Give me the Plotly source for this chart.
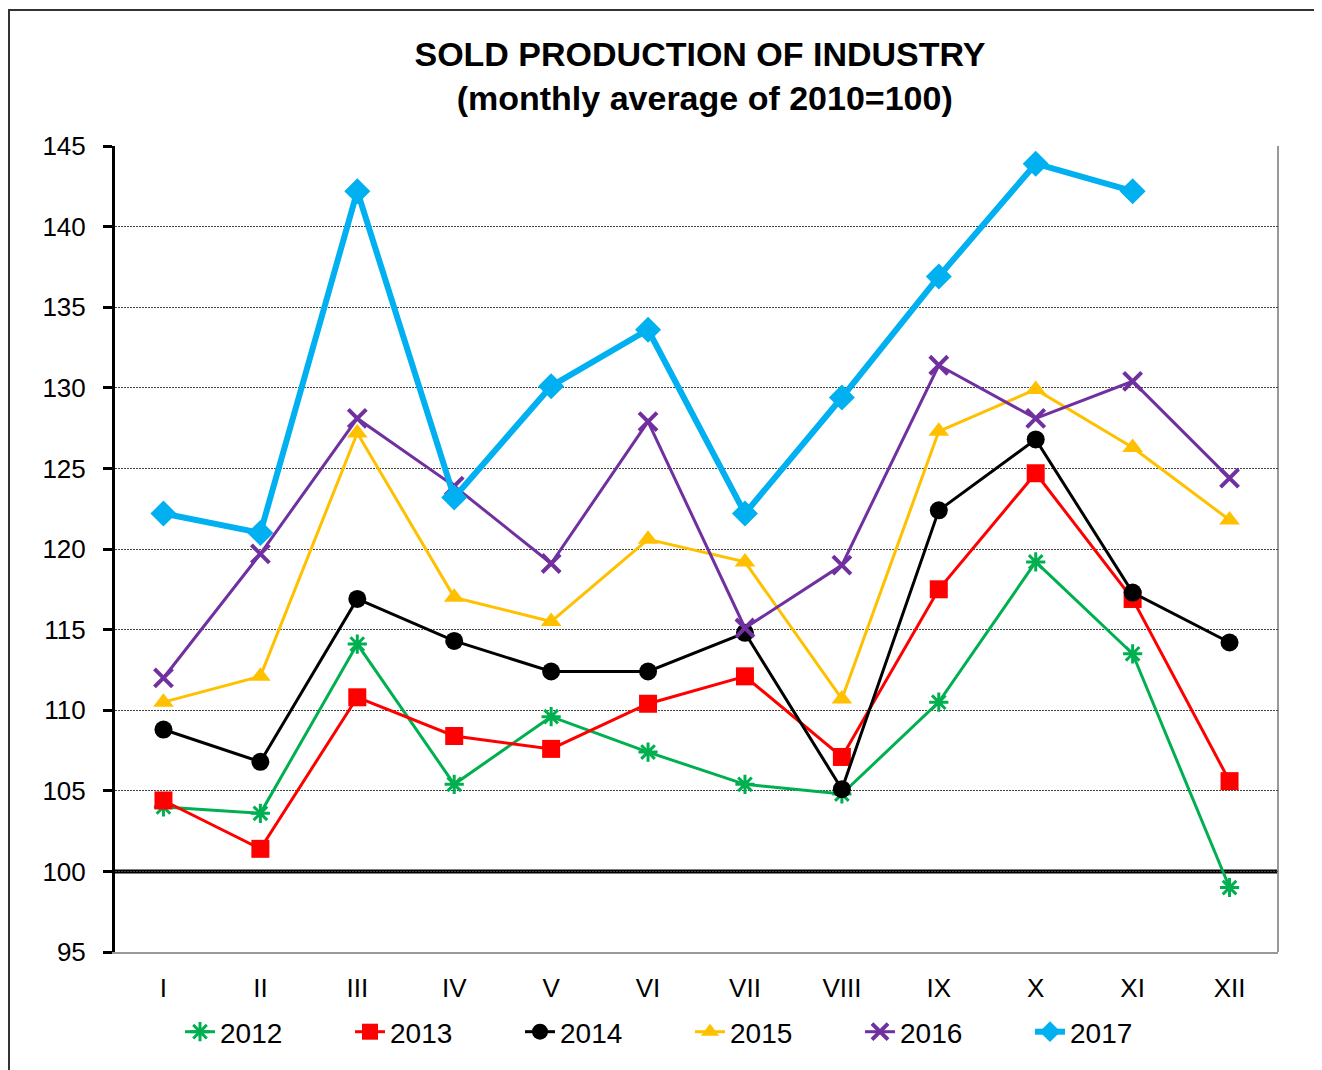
import plotly.graph_objects as go

months = ["I", "II", "III", "IV", "V", "VI", "VII", "VIII", "IX", "X", "XI", "XII"]
y2012 = [104.0, 103.6, 114.1, 105.4, 109.6, 107.4, 105.4, 104.8, 110.5, 119.2, 113.5, 99.0]
y2013 = [104.4, 101.4, 110.8, 108.4, 107.6, 110.4, 112.1, 107.1, 117.5, 124.7, 116.9, 105.6]
y2014 = [108.8, 106.8, 116.9, 114.3, 112.4, 112.4, 114.8, 105.1, 122.4, 126.8, 117.3, 114.2]
y2015 = [110.5, 112.1, 127.2, 117.0, 115.5, 120.6, 119.2, 110.7, 127.3, 129.9, 126.3, 121.8]
y2016 = [112.0, 119.7, 128.1, 123.9, 119.1, 127.9, 115.1, 119.0, 131.4, 128.1, 130.4, 124.4]
y2017 = [122.2, 121.0, 142.2, 123.2, 130.1, 133.6, 122.2, 129.4, 136.9, 143.9, 142.2, None]

FONT = "Arial, Liberation Sans, sans-serif"

# page body has an 8px margin; figure coordinates are offset accordingly
W, H = 1314, 1062
L, R, T, B = 107, 44, 138, 118
pw = W - L - R
ph = H - T - B
OFF = 8

fig = go.Figure()

series = [
    ("2012", y2012, "#00B050", 3, dict(symbol="asterisk-open", size=16, line=dict(width=3, color="#00B050"))),
    ("2013", y2013, "#FF0000", 3, dict(symbol="square", size=18, color="#FF0000")),
    ("2014", y2014, "#000000", 3, dict(symbol="circle", size=18, color="#000000")),
    ("2015", y2015, "#FFC000", 3, dict(symbol="triangle-up", size=18, color="#FFC000")),
    ("2016", y2016, "#7030A0", 3, dict(symbol="x-thin-open", size=18, line=dict(width=4, color="#7030A0"))),
    ("2017", y2017, "#00B0F0", 6, dict(symbol="diamond", size=20, color="#00B0F0")),
]

for name, ys, color, lw, marker in series:
    fig.add_trace(go.Scatter(
        x=months, y=ys, name=name, mode="lines+markers",
        line=dict(color=color, width=lw),
        marker=marker,
        connectgaps=False,
    ))

def px_x(px):
    return (px - OFF - L) / pw

def px_y(py):
    return (H - B - (py - OFF)) / ph

shapes = [
    dict(type="line", xref="paper", yref="y", x0=0, x1=1, y0=100, y1=100,
         line=dict(color="black", width=4), layer="between"),
    dict(type="line", xref="paper", yref="paper", x0=1, x1=1, y0=0, y1=1,
         line=dict(color="#999999", width=2), layer="between"),
    dict(type="rect", xref="paper", yref="paper",
         x0=px_x(9), x1=px_x(1340),
         y0=px_y(1100), y1=px_y(10),
         line=dict(color="#333333", width=2), fillcolor="rgba(0,0,0,0)"),
]

fig.update_layout(
    width=W, height=H,
    margin=dict(l=L, r=R, t=T, b=B, autoexpand=False),
    paper_bgcolor="white", plot_bgcolor="white",
    font=dict(family=FONT, color="black", size=26),
    title=dict(
        text="<b>SOLD PRODUCTION OF INDUSTRY<br> (monthly average of 2010=100)</b>",
        x=(700 - OFF) / W, xanchor="center",
        y=1 - (66 - OFF) / H, yanchor="top",
        font=dict(family=FONT, size=34, color="black"),
    ),
    xaxis=dict(
        type="category", categoryorder="array", categoryarray=months,
        range=[-0.5, 11.5],
        showgrid=False, zeroline=False,
        showline=True, linecolor="#999999", linewidth=2, mirror=False,
        ticks="", ticklabelstandoff=12,
        tickfont=dict(family=FONT, size=26, color="black"),
    ),
    yaxis=dict(
        range=[95, 145], dtick=5, tick0=95,
        showgrid=True, gridcolor="#444444", gridwidth=1, griddash="2px,1px",
        zeroline=False,
        showline=True, linecolor="black", linewidth=3,
        ticks="outside", ticklen=9, tickwidth=3, tickcolor="black",
        ticklabelstandoff=12,
        tickfont=dict(family=FONT, size=26, color="black"),
    ),
    legend=dict(
        orientation="h", x=px_x(690), xanchor="center",
        y=px_y(1032), yanchor="middle",
        font=dict(family=FONT, size=28, color="black"),
        entrywidth=125, entrywidthmode="pixels",
        bgcolor="rgba(0,0,0,0)",
        traceorder="normal",
    ),
    shapes=shapes,
    showlegend=True,
)

fig.write_html("out.html")
